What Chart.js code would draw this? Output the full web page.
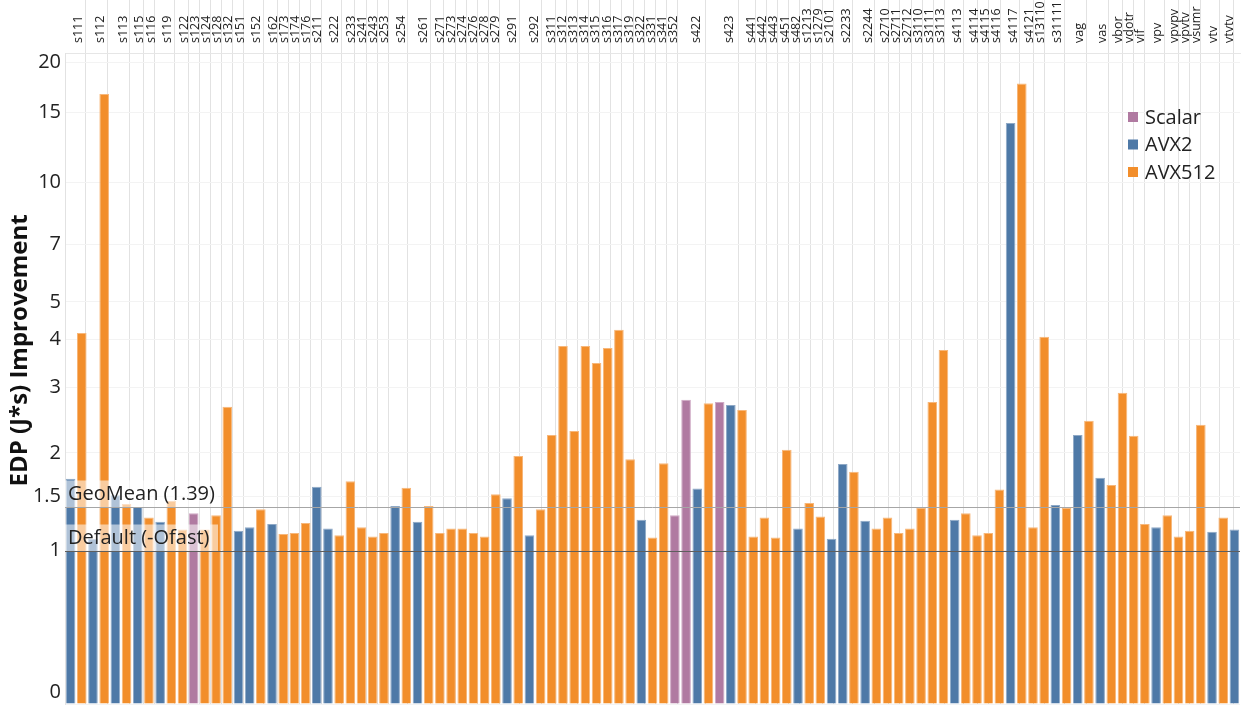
<!DOCTYPE html>
<html>
<head>
<meta charset="utf-8">
<script src="https://cdn.jsdelivr.net/npm/chart.js@4.4.1/dist/chart.umd.min.js"></script>
<style>
  html, body { margin: 0; padding: 0; background: #ffffff; }
  #wrap { width: 1244px; height: 706px; position: relative; }
</style>
</head>
<body>
<div id="wrap"><canvas id="chart" width="1244" height="706"></canvas></div>
<script>
// ---------------- data ----------------
const benchmarkNames = [
  's111','s111','s112','s112','s113','s113','s115','s116','s119','s119',
  's122','s123','s124','s128','s132','s151','s152','s152','s162','s173',
  's174','s176','s211','s222','s222','s233','s241','s243','s253','s254',
  's254','s261','s261','s271','s273','s274','s276','s278','s279','s291',
  's291','s292','s292','s311','s312','s313','s314','s315','s316','s317',
  's319','s322','s331','s341','s352','s422','s422','s422','s423','s423',
  's423','s441','s442','s443','s451','s482','s1213','s1279','s2101','s2233',
  's2233','s2244','s2244','s2710','s2711','s2712','s3110','s3111','s3113','s4113',
  's4113','s4114','s4115','s4116','s4117','s4117','s4121','s13110','s31111','s31111',
  'vag','vag','vas','vas','vbor','vdotr','vif','vpv','vpv','vpvpv',
  'vpvtv','vsumr','vtv','vtv','vtvtv'
];
const variants = [
  'AVX2','AVX512','AVX2','AVX512','AVX2','AVX512','AVX2','AVX512','AVX2','AVX512',
  'AVX512','Scalar','AVX512','AVX512','AVX512','AVX2','AVX2','AVX512','AVX2','AVX512',
  'AVX512','AVX512','AVX2','AVX2','AVX512','AVX512','AVX512','AVX512','AVX512','AVX2',
  'AVX512','AVX2','AVX512','AVX512','AVX512','AVX512','AVX512','AVX512','AVX512','AVX2',
  'AVX512','AVX2','AVX512','AVX512','AVX512','AVX512','AVX512','AVX512','AVX512','AVX512',
  'AVX512','AVX2','AVX512','AVX512','Scalar','Scalar','AVX2','AVX512','Scalar','AVX2',
  'AVX512','AVX512','AVX512','AVX512','AVX512','AVX2','AVX512','AVX512','AVX2','AVX2',
  'AVX512','AVX2','AVX512','AVX512','AVX512','AVX512','AVX512','AVX512','AVX512','AVX2',
  'AVX512','AVX512','AVX512','AVX512','AVX2','AVX512','AVX512','AVX512','AVX2','AVX512',
  'AVX2','AVX512','AVX2','AVX512','AVX512','AVX512','AVX512','AVX2','AVX512','AVX512',
  'AVX512','AVX512','AVX2','AVX512','AVX2'
];
const edpImprovement = [
  1.69, 4.16, 1.10, 16.67, 1.51, 1.42, 1.39, 1.29, 1.25, 1.45,
  1.18, 1.33, 1.18, 1.31, 2.67, 1.17, 1.20, 1.37, 1.23, 1.14,
  1.15, 1.24, 1.60, 1.19, 1.13, 1.66, 1.20, 1.12, 1.15, 1.40,
  1.59, 1.25, 1.40, 1.15, 1.19, 1.19, 1.15, 1.12, 1.52, 1.48,
  1.96, 1.13, 1.37, 2.24, 3.85, 2.30, 3.85, 3.48, 3.81, 4.24,
  1.92, 1.27, 1.11, 1.87, 1.31, 2.79, 1.58, 2.73, 2.75, 2.70,
  2.62, 1.12, 1.29, 1.11, 2.04, 1.19, 1.43, 1.30, 1.10, 1.86,
  1.77, 1.26, 1.19, 1.29, 1.15, 1.19, 1.38, 2.75, 3.76, 1.27,
  1.33, 1.13, 1.15, 1.57, 14.1, 17.7, 1.20, 4.07, 1.41, 1.38,
  2.24, 2.45, 1.70, 1.62, 2.91, 2.23, 1.23, 1.20, 1.31, 1.12,
  1.17, 2.39, 1.16, 1.29, 1.18
];
const seriesNames = ['Scalar', 'AVX2', 'AVX512'];
const yTickValues = [0, 1, 1.5, 2, 3, 4, 5, 7, 10, 15, 20];
const geoMean = 1.39;
const defaultValue = 1;

// ---------------- styles ----------------
const seriesFill = { Scalar: '#B07AA1', AVX2: '#4E79A7', AVX512: '#F28E2B' };
const seriesEdge = { Scalar: '#cfa9c4', AVX2: '#8fa9c6', AVX512: '#f7b77a' };
const FONT = "'Open Sans', 'Noto Sans', sans-serif";

// ---------------- custom asinh (symmetric log) scale ----------------
class AsinhScale extends Chart.LinearScale {
  static id = 'asinh';
  static defaults = {};
  configure() {
    super.configure();
    this._tStart = Math.asinh(this.min);
    this._tEnd = Math.asinh(this.max);
  }
  buildTicks() {
    return yTickValues.map(v => ({ value: v }));
  }
  getPixelForValue(value) {
    if (value === null || value === undefined || isNaN(value)) return NaN;
    return this.getPixelForDecimal((Math.asinh(value) - this._tStart) / (this._tEnd - this._tStart));
  }
  getValueForPixel(pixel) {
    return Math.sinh(this._tStart + this.getDecimalForPixel(pixel) * (this._tEnd - this._tStart));
  }
}
Chart.register(AsinhScale);

// ---------------- derived structures ----------------
const nBars = edpImprovement.length;
const groups = [];
benchmarkNames.forEach((name, i) => {
  const last = groups[groups.length - 1];
  if (last && last.name === name) last.end = i;
  else groups.push({ name, start: i, end: i });
});
const topTicks = [];
groups.forEach(g => {
  topTicks.push({ value: g.start - 0.5, label: '', boundary: true });
  topTicks.push({ value: (g.start + g.end) / 2, label: g.name, boundary: false });
});
topTicks.push({ value: nBars - 0.5, label: '', boundary: true });

const datasets = seriesNames.map(s => ({
  label: s,
  data: edpImprovement.map((v, i) => (variants[i] === s ? v : null)),
  backgroundColor: seriesFill[s],
  borderColor: seriesEdge[s],
  borderWidth: 1,
  grouped: false,
  barPercentage: 0.86,
  categoryPercentage: 1.0
}));

// ---------------- plugins ----------------
const refLinePlugin = {
  id: 'refLines',
  afterDatasetsDraw(chart) {
    const { ctx, chartArea } = chart;
    const y = chart.scales.y;
    const lines = [
      { v: geoMean, text: 'GeoMean (' + geoMean + ')', color: '#a6a6a6' },
      { v: defaultValue, text: 'Default (-Ofast)', color: '#5e5e5e' }
    ];
    ctx.save();
    lines.forEach(l => {
      const py = Math.round(y.getPixelForValue(l.v)) + 0.5;
      ctx.fillStyle = 'rgba(255,255,255,0.55)';
      ctx.fillRect(chartArea.left, py - 27, 153, 27);
      ctx.strokeStyle = l.color;
      ctx.lineWidth = 1;
      ctx.beginPath();
      ctx.moveTo(chartArea.left, py);
      ctx.lineTo(chartArea.right, py);
      ctx.stroke();
      ctx.fillStyle = '#222';
      ctx.font = '20px ' + FONT;
      ctx.textAlign = 'left';
      ctx.textBaseline = 'middle';
      ctx.fillText(l.text, chartArea.left + 3, py - 13);
    });
    ctx.restore();
  }
};

const legendPlugin = {
  id: 'innerLegend',
  afterDraw(chart) {
    const { ctx } = chart;
    ctx.save();
    ctx.font = '20px ' + FONT;
    ctx.textAlign = 'left';
    ctx.textBaseline = 'middle';
    seriesNames.forEach((s, i) => {
      const cy = 117 + i * 27.5;
      ctx.fillStyle = seriesFill[s];
      ctx.fillRect(1128, cy - 5, 10, 10);
      ctx.fillStyle = '#222';
      ctx.fillText(s, 1145, cy + 1);
    });
    ctx.restore();
  }
};

// ---------------- chart ----------------
new Chart(document.getElementById('chart'), {
  type: 'bar',
  data: { labels: benchmarkNames, datasets },
  options: {
    responsive: false,
    devicePixelRatio: 1,
    animation: false,
    layout: { padding: { top: 0, left: 0, right: 4, bottom: 2 } },
    plugins: { legend: { display: false }, tooltip: { enabled: false } },
    scales: {
      x: { type: 'category', display: false, offset: true },
      xTop: {
        type: 'linear',
        position: 'top',
        min: -0.5,
        max: nBars - 0.5,
        afterBuildTicks: s => { s.ticks = topTicks.map(t => ({ value: t.value })); },
        afterFit: s => { s.height = 53; s.paddingLeft = 0; s.paddingRight = 0; },
        ticks: {
          autoSkip: false,
          minRotation: 90,
          maxRotation: 90,
          padding: -43,
          labelOffset: 14,
          color: '#222',
          font: { family: FONT, size: 12.5 },
          callback: (v, i) => (topTicks[i] ? topTicks[i].label : '')
        },
        grid: {
          drawOnChartArea: true,
          drawTicks: true,
          tickLength: 53,
          lineWidth: 1,
          color: c => (topTicks[c.index] && topTicks[c.index].boundary ? '#e2e2e2' : 'rgba(0,0,0,0)'),
          tickColor: c => (topTicks[c.index] && topTicks[c.index].boundary ? '#e2e2e2' : 'rgba(0,0,0,0)')
        },
        border: { display: true, color: '#e6e6e6' }
      },
      y: {
        type: 'asinh',
        position: 'left',
        min: 0,
        max: 21.1,
        afterFit: s => { s.width = 65; s.paddingTop = 0; s.paddingBottom = 0; },
        ticks: {
          autoSkip: false,
          padding: 4,
          color: '#222',
          font: { family: FONT, size: 20 },
          callback: v => (v === 0 ? ['0', ''] : String(v))
        },
        grid: { color: '#f3f3f3', drawTicks: false },
        border: { display: true, color: '#e2e2e2' },
        title: {
          display: true,
          text: '         EDP (J*s) Improvement',
          color: '#111',
          font: { family: FONT, size: 24, weight: 'bold' },
          padding: { top: 6, bottom: 0 }
        }
      }
    }
  },
  plugins: [refLinePlugin, legendPlugin]
});
</script>
</body>
</html>
